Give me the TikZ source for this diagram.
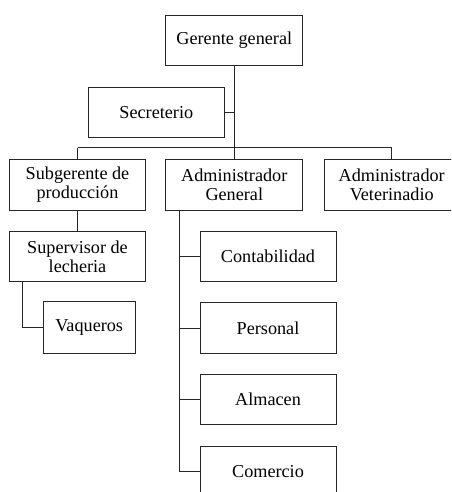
\documentclass[tikz,border=0pt]{standalone}
\usepackage{fontspec}
\setmainfont{Liberation Serif}
\usetikzlibrary{calc}
\begin{document}
\begin{tikzpicture}[x=1pt,y=-1pt,
  box/.style={draw=black!85, line width=1pt, fill=white, inner sep=0pt,
    align=center, font=\fontsize{18.2}{19}\selectfont},
  link/.style={draw=black!85, line width=1pt}]
\useasboundingbox (0,0) rectangle (451,492);
\clip (0,0) rectangle (451,492);

% top level
\node[box, minimum width=136.7pt, minimum height=50.3pt] (gg) at (234.3,40.2) {Gerente general};
\node[box, minimum width=136pt, minimum height=50pt] (sec) at (156.3,112.3) {Secreterio};

% second level
\node[box, minimum width=136.4pt, minimum height=51pt] (sub) at (77.5,184.5) {Subgerente de\\producción};
\node[box, minimum width=136.7pt, minimum height=51pt] (adm) at (234.3,184.5) {Administrador\\General};
\node[box, minimum width=135.4pt, minimum height=51pt] (vet) at (391.7,184.5) {Administrador\\Veterinadio};

% production branch
\node[box, minimum width=136.4pt, minimum height=50pt] (sup) at (77.5,256.7) {Supervisor de\\lecheria};
\node[box, minimum width=91.7pt, minimum height=51.7pt] (vaq) at (89.2,327.8) {Vaqueros};

% administration branch
\node[box, minimum width=136pt, minimum height=50pt] (con) at (268,256.7) {Contabilidad};
\node[box, minimum width=136pt, minimum height=51.4pt] (per) at (268,328) {Personal};
\node[box, minimum width=136pt, minimum height=50.3pt] (alm) at (268,399.2) {Almacen};
\node[box, minimum width=136pt, minimum height=51.4pt] (com) at (268,471.7) {Comercio};

% connectors
\coordinate (bar) at (234.3,147.7);
\draw[link] (gg.south) -- (bar);
\draw[link] (sec.east) -- (sec.east -| gg.south);
\draw[link] (sub.north |- bar) -- (vet.north |- bar);
\draw[link] (sub.north |- bar) -- (sub.north);
\draw[link] (adm.north |- bar) -- (adm.north);
\draw[link] (vet.north |- bar) -- (vet.north);
\draw[link] (sub.south) -- (sup.north);

\coordinate (supspine) at ($(sup.south west)+(14,0)$);
\draw[link] (supspine) |- (vaq.west);

\coordinate (admspine) at ($(adm.south west)+(14,0)$);
\draw[link] (admspine) |- (com.west);
\draw[link] (admspine |- con.west) -- (con.west);
\draw[link] (admspine |- per.west) -- (per.west);
\draw[link] (admspine |- alm.west) -- (alm.west);
\end{tikzpicture}
\end{document}
